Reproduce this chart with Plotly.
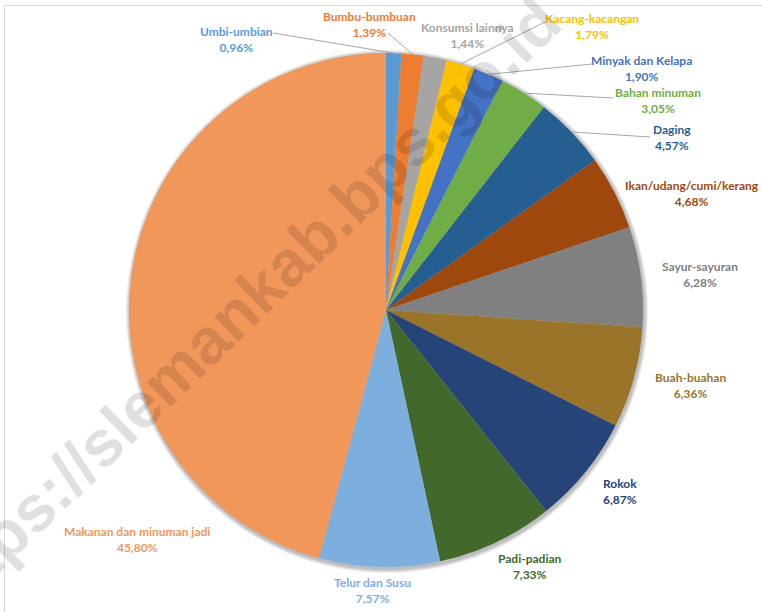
import math

import plotly.graph_objects as go

W, H = 762, 612

categories = [
    "Umbi-umbian", "Bumbu-bumbuan", "Konsumsi lainnya", "Kacang-kacangan",
    "Minyak dan Kelapa", "Bahan minuman", "Daging", "Ikan/udang/cumi/kerang",
    "Sayur-sayuran", "Buah-buahan", "Rokok", "Padi-padian", "Telur dan Susu",
    "Makanan dan minuman jadi",
]
shares = [0.96, 1.39, 1.44, 1.79, 1.90, 3.05, 4.57, 4.68, 6.28, 6.36, 6.87, 7.33, 7.57, 45.80]

colors = [
    "#5B9BD5", "#ED7D31", "#A5A5A5", "#FFC000", "#4472C4", "#70AD47", "#255E91",
    "#9E480E", "#808080", "#9A7429", "#264478", "#43682B", "#7CAFDD", "#F1975A",
]

# label block centres in pixels (Excel "best fit" placement)
label_pos = [
    (236, 39), (369, 25), (467, 35), (592, 27), (641, 68), (658, 101), (672, 138),
    (692, 193), (700, 274), (690, 385), (620, 491), (530, 566), (372, 590), (137, 539),
]
# which labels get a leader line, and where the line leaves the label
leaders = {0: (273, 33), 1: (388, 33), 3: (545, 22), 4: (592, 64), 5: (613, 98), 6: (650, 137)}

cx, cy, r = 386, 310, 257


def px(x):
    return x / W


def py(y):
    return 1 - y / H


def fmt(v):
    return f"{v:.2f}".replace(".", ",") + "%"


fig = go.Figure()
fig.add_trace(go.Pie(
    labels=categories,
    values=shares,
    sort=False,
    direction="clockwise",
    rotation=0,
    marker=dict(colors=colors, line=dict(width=0)),
    textinfo="none",
    hoverinfo="label+percent",
    showlegend=False,
    domain=dict(x=[px(cx - r), px(cx + r)], y=[py(cy + r), py(cy - r)]),
))

annotations = []
for name, v, c, (lx, ly) in zip(categories, shares, colors, label_pos):
    annotations.append(dict(
        x=px(lx), y=py(ly), xref="paper", yref="paper",
        text=f"<b>{name}<br>{fmt(v)}</b>", showarrow=False,
        font=dict(family="Lato", size=12, color=c),
        xanchor="center", yanchor="middle", align="center",
    ))

# watermark
annotations.append(dict(
    x=px(240), y=py(308), xref="paper", yref="paper",
    text="<b>https://slemankab.bps.go.id</b>", showarrow=False, textangle=-44,
    font=dict(family="Liberation Sans", size=65, color="rgba(0,0,0,0.12)"),
    xanchor="center", yanchor="middle",
))

shapes = [dict(
    type="rect", xref="paper", yref="paper",
    x0=px(4.5), x1=1.05, y0=-0.05, y1=py(5.5),
    line=dict(color="#d9d9d9", width=1), fillcolor="rgba(0,0,0,0)",
)]

# soft shadow under the pie
for k in range(1, 5):
    shapes.append(dict(
        type="circle", xref="paper", yref="paper", layer="below",
        x0=px(cx - r - k + 1), x1=px(cx + r + k + 1),
        y0=py(cy + r + k + 2), y1=py(cy - r - k + 1),
        line=dict(width=0), fillcolor="rgba(0,0,0,0.07)",
    ))

# leader lines from label to the middle of its slice edge
start = 0.0
total = sum(shares)
for i, v in enumerate(shares):
    mid = (start + v / 2) / total * 2 * math.pi
    start += v
    if i in leaders:
        ex = cx + r * math.sin(mid)
        ey = cy - r * math.cos(mid)
        lx, ly = leaders[i]
        shapes.append(dict(
            type="line", xref="paper", yref="paper",
            x0=px(lx), y0=py(ly), x1=px(ex), y1=py(ey),
            line=dict(color="#a6a6a6", width=1),
        ))

fig.update_layout(
    width=W, height=H,
    margin=dict(l=0, r=0, t=0, b=0),
    paper_bgcolor="white",
    plot_bgcolor="white",
    annotations=annotations,
    shapes=shapes,
)

fig.write_html(
    "out.html",
    config={"displayModeBar": False},
    post_script="document.body.style.margin='0';",
)
